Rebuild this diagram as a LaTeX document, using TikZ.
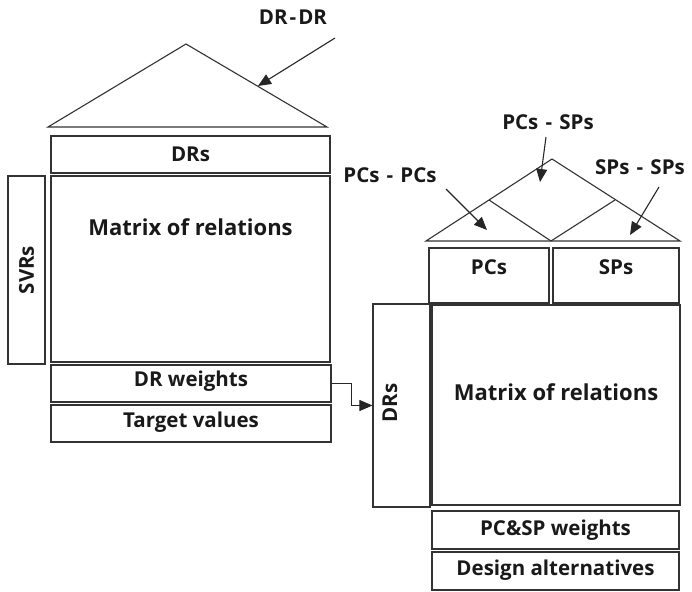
\documentclass[tikz,border=0pt]{standalone}
\usepackage{fontspec}
\setmainfont{Open Sans}
\usetikzlibrary{arrows.meta}
\newcommand\mydash{\hspace{0.35em}-\hspace{0.35em}}
\tikzset{
  ln/.style={draw=black!80, line width=1.1pt},
  box/.style={ln, rectangle, inner sep=0pt},
  txt/.style={font=\bfseries\fontsize{20.5}{24}\selectfont, text=black!90, inner sep=0pt},
  bigtxt/.style={font=\bfseries\fontsize{22}{26}\selectfont, text=black!90, inner sep=0pt},
  arr/.style={draw=black!85, line width=1.1pt, -{Triangle[length=13pt,width=11pt]}}
}
\begin{document}
\begin{tikzpicture}[x=1pt,y=-1pt]
\useasboundingbox (0,0) rectangle (692,591);
% ---------- left house ----------
\coordinate (LL) at (48,127);
\coordinate (LR) at (327,127);
\coordinate (LA) at (186,44);
\draw[ln, line join=miter] (LL) -- (LA) -- (LR) -- cycle;
\node[box, minimum width=279pt, minimum height=37pt] (ldrs) at (190.5,154.5) {};
\node[txt] (ldrst) at (190.5,154) {DRs};
\node[box, minimum width=279pt, minimum height=186pt] (lmat) at (190.5,269) {};
\node[bigtxt] (lmatt) at (190.5,227) {Matrix of relations};
\node[box, minimum width=37pt, minimum height=188pt] (svrs) at (26.5,270) {};
\node[txt, rotate=90] (svrst) at (26.5,270) {SVRs};
\node[box, minimum width=280pt, minimum height=37pt] (ldrw) at (191,383.5) {};
\node[txt] (ldrwt) at (191,381) {DR weights};
\node[box, minimum width=280pt, minimum height=37pt] (ltv) at (191,423.5) {};
\node[txt] (ltvt) at (191,422) {Target values};
\node[txt] (drdr) at (293,17) {DR\hspace{2pt}-\hspace{2pt}DR};
\coordinate (drdrs) at (335,38);
\coordinate (drdre) at (258,86);
\draw[arr] (drdrs) -- (drdre);
% ---------- right house ----------
\coordinate (RL) at (426,241);
\coordinate (RR) at (680,241);
\coordinate (RA) at (552,159);
\coordinate (RM) at (551,241);
\coordinate (RLm) at (489,200);
\coordinate (RRm) at (615,200);
\draw[ln, line join=miter] (RL) -- (RA) -- (RR) -- cycle;
\draw[ln] (RLm) -- (RM) -- (RRm);
\node[box, minimum width=120pt, minimum height=55pt] (pcs) at (489,275.5) {};
\node[txt] (pcst) at (489,267) {PCs};
\node[box, minimum width=126pt, minimum height=55pt] (sps) at (616,275.5) {};
\node[txt] (spst) at (616,267) {SPs};
\node[box, minimum width=57pt, minimum height=203pt] (rdrs) at (401.5,405.5) {};
\node[txt, rotate=90] (rdrst) at (390,403) {DRs};
\node[box, minimum width=248pt, minimum height=200pt] (rmat) at (556,405) {};
\node[bigtxt] (rmatt) at (556,392) {Matrix of relations};
\node[box, minimum width=247pt, minimum height=38pt] (pcsw) at (555.5,530) {};
\node[txt] (pcswt) at (555.5,530) {PC\&SP weights};
\node[box, minimum width=247pt, minimum height=38pt] (dalt) at (555.5,571) {};
\node[txt] (daltt) at (555.5,570) {Design alternatives};
% labels and arrows
\node[txt] (pcsps) at (548,122) {PCs\mydash SPs};
\coordinate (a1s) at (546,137);
\coordinate (a1e) at (540,182);
\draw[arr] (a1s) -- (a1e);
\node[txt] (pcpc) at (390,175) {PCs\mydash PCs};
\coordinate (a2s) at (446,189);
\coordinate (a2e) at (487,230);
\draw[arr] (a2s) -- (a2e);
\node[txt] (spsp) at (640,167) {SPs\mydash SPs};
\coordinate (a3s) at (659,187);
\coordinate (a3e) at (630,235);
\draw[arr] (a3s) -- (a3e);
% connector
\draw[arr, line width=0.9pt] (ldrw.east) -- ++(20,0) |- (rdrs.west);
\end{tikzpicture}
\end{document}
